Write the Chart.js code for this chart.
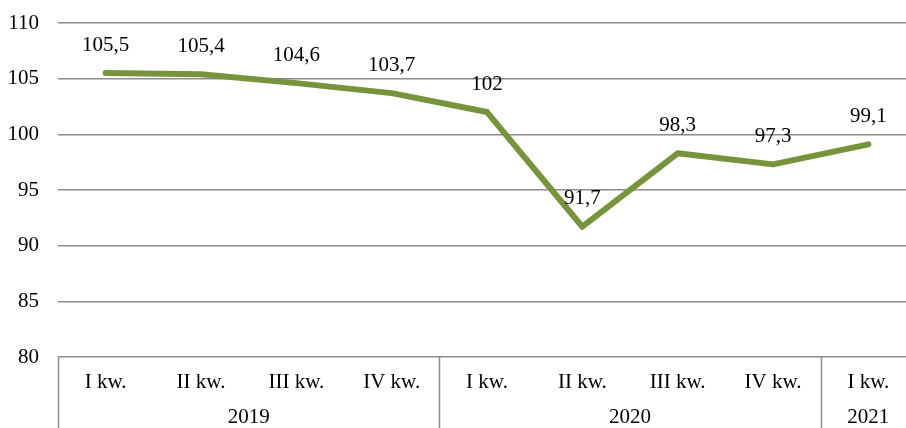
<!DOCTYPE html>
<html>
<head>
<meta charset="utf-8">
<script src="https://cdn.jsdelivr.net/npm/chart.js@4/dist/chart.umd.min.js"></script>
<style>
html,body{margin:0;padding:0;overflow:hidden;background:#fff;}
#wrap{width:916px;height:428px;}
</style>
</head>
<body>
<div id="wrap"><canvas id="c" width="916" height="428"></canvas></div>
<script>
const quarters = ["I kw.","II kw.","III kw.","IV kw.","I kw.","II kw.","III kw.","IV kw.","I kw."];
const years = ["2019","2020","2021"];
const yearSpans = [4,4,1];
const values = [105.5,105.4,104.6,103.7,102,91.7,98.3,97.3,99.1];
const yTicks = [80,85,90,95,100,105,110];

const FONT = "'Liberation Serif','Times New Roman',serif";
const FS = 21;
const GRID = '#8c8c8c';

const extras = {
  id:'extras',
  afterDatasetsDraw(chart){
    const ctx = chart.ctx;
    const meta = chart.getDatasetMeta(0);
    ctx.save();
    ctx.font = FS + 'px ' + FONT;
    ctx.fillStyle = '#000';
    ctx.textAlign = 'center';
    ctx.textBaseline = 'middle';
    meta.data.forEach((pt,i)=>{
      ctx.fillText(String(values[i]).replace('.',','), pt.x, pt.y - 28);
    });
    ctx.restore();
  },
  afterDraw(chart){
    const ctx = chart.ctx;
    const xs = chart.scales.x;
    const area = chart.chartArea;
    const step = xs.getPixelForValue(1) - xs.getPixelForValue(0);
    ctx.save();
    ctx.strokeStyle = GRID;
    ctx.lineWidth = 1.5;
    let idx = 0;
    const bounds = [xs.getPixelForValue(0) - step/2];
    years.forEach((y,k)=>{
      idx += yearSpans[k];
      bounds.push(xs.getPixelForValue(idx-1) + step/2);
    });
    bounds.forEach(b=>{
      ctx.beginPath();
      ctx.moveTo(Math.round(b)+0.5, area.bottom);
      ctx.lineTo(Math.round(b)+0.5, chart.height);
      ctx.stroke();
    });
    ctx.font = FS + 'px ' + FONT;
    ctx.fillStyle = '#000';
    ctx.textAlign = 'center';
    ctx.textBaseline = 'middle';
    years.forEach((y,k)=>{
      ctx.fillText(y, (bounds[k]+bounds[k+1])/2, area.bottom + 60);
    });
    ctx.restore();
  }
};

new Chart(document.getElementById('c'), {
  type:'line',
  data:{
    labels: quarters,
    datasets:[{
      data: values,
      borderColor:'#77933C',
      borderWidth:6,
      pointRadius:0,
      tension:0,
      borderJoinStyle:'round',
      borderCapStyle:'round',
      fill:false
    }]
  },
  options:{
    responsive:false,
    animation:false,
    devicePixelRatio:1,
    layout:{padding:{top:23,right:0,bottom:0,left:0}},
    plugins:{legend:{display:false},tooltip:{enabled:false}},
    scales:{
      x:{
        offset:true,
        grid:{display:false, drawTicks:false},
        border:{display:false},
        ticks:{font:{family:FONT,size:FS},color:'#000',padding:13,maxRotation:0,autoSkip:false},
        afterFit(s){s.height = 71; s.paddingLeft = 0; s.paddingRight = 0;}
      },
      y:{
        min:80,max:110,
        afterBuildTicks(s){s.ticks = yTicks.map(v=>({value:v}));},
        grid:{color:GRID,lineWidth:1.5,drawTicks:false},
        border:{display:false},
        ticks:{font:{family:FONT,size:FS},color:'#000',padding:19},
        afterFit(s){s.width = 58; s.paddingTop = 0; s.paddingBottom = 0;}
      }
    }
  },
  plugins:[extras]
});
</script>
</body>
</html>
